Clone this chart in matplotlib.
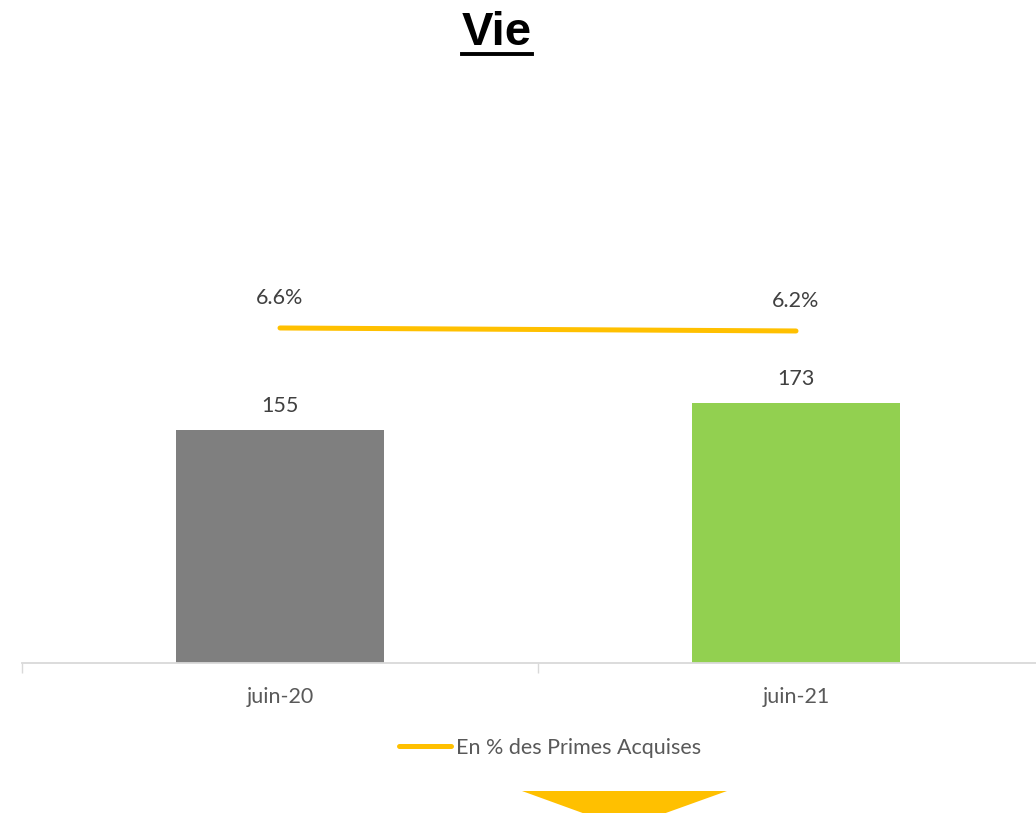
import matplotlib
matplotlib.use("Agg")
import matplotlib.pyplot as plt
from matplotlib.lines import Line2D
from matplotlib.patches import Polygon

categories = ["juin-20", "juin-21"]
montants = [155, 173]
pourcentages = [6.6, 6.2]
bar_colors = ["#7f7f7f", "#92d050"]
legend_label = "En % des Primes Acquises"
title = "Vie"

W, H = 1036, 813
fig = plt.figure(figsize=(W / 100, H / 100), dpi=100)
fig.patch.set_facecolor("white")

def fx(px):
    return px / W

def fy(py):
    return 1 - py / H

FS = 15.5
FONT = "Lato"

left, right, top, bottom = 22, 1054, 90, 663
ax = fig.add_axes([fx(left), fy(bottom), (right - left) / W, (bottom - top) / H])
ax.set_facecolor("none")

x = list(range(len(categories)))
ax.bar(x, montants, width=0.405, color=bar_colors, zorder=2)
ax.set_xlim(-0.5, 1.5)
ax.set_ylim(0, 381)

for s in ["top", "right", "left"]:
    ax.spines[s].set_visible(False)
ax.spines["bottom"].set_color("#d9d9d9")
ax.spines["bottom"].set_linewidth(1.3)
ax.set_yticks([])
ax.set_xticks([-0.5, 0.5])
ax.set_xticklabels([])
ax.tick_params(axis="x", which="major", length=7, color="#d9d9d9", width=1.0)
ax.set_xticks(x, minor=True)
ax.set_xticklabels(categories, minor=True)
ax.tick_params(axis="x", which="minor", length=0, pad=17, labelsize=FS,
               labelcolor="#595959")
for lbl in ax.get_xticklabels(minor=True):
    lbl.set_family(FONT)

for xi, v in zip(x, montants):
    ax.annotate(f"{v}", (xi, v), xytext=(0, 17), textcoords="offset points",
                ha="center", va="center", fontsize=FS, color="#404040",
                family=FONT)

ax2 = ax.twinx()
ax2.set_ylim(-38.07, 38.33)
ax2.axis("off")
ax2.plot(x, pourcentages, color="#ffc000", lw=3.6, solid_capstyle="round",
         label=legend_label, zorder=3)
for xi, v in zip(x, pourcentages):
    ax2.annotate(f"{v:.1f}%", (xi, v), xytext=(0, 21.6), textcoords="offset points",
                 ha="center", va="center", fontsize=FS, color="#404040",
                 family=FONT)

fig.legend(handles=[Line2D([], [], color="#ffc000", lw=3.6, solid_capstyle="round")],
           labels=[legend_label], loc="center",
           bbox_to_anchor=(fx(550), fy(748)), frameon=False,
           prop={"family": FONT, "size": FS}, labelcolor="#595959",
           handlelength=2.4, handletextpad=0.25)

t = fig.text(fx(497), fy(33), title, ha="center", va="center",
             fontsize=34, fontweight="bold", family="Liberation Sans", color="black")
fig.canvas.draw()
bb = t.get_window_extent()
fig.add_artist(Line2D([bb.x0 / W, bb.x1 / W], [fy(54), fy(54)],
                      transform=fig.transFigure, color="black", lw=2.8))

fig.add_artist(Polygon([(fx(522), fy(791)), (fx(727), fy(791)), (fx(624), fy(828))],
                       closed=True, transform=fig.transFigure,
                       facecolor="#ffc000", edgecolor="none"))

fig.savefig("out.png", dpi=100, facecolor="white")
